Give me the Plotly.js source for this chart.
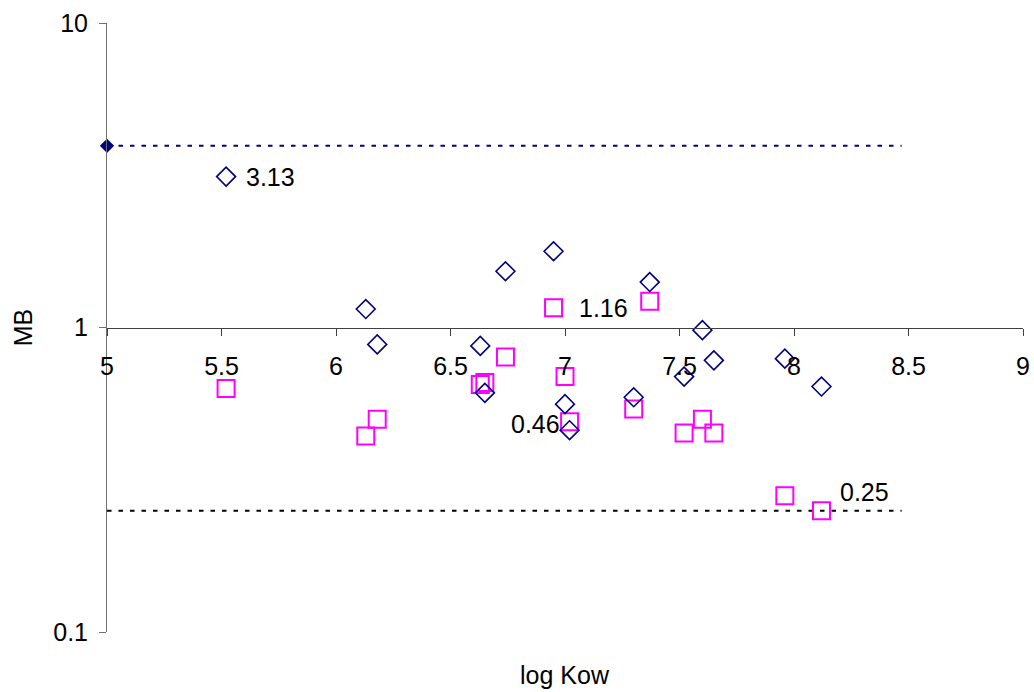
<!DOCTYPE html>
<html>
<head>
<meta charset="utf-8">
<script src="https://cdn.plot.ly/plotly-3.0.1.min.js"></script>
<style>
  html, body { margin: 0; padding: 0; background: #ffffff; }
  #chart { width: 1034px; height: 692px; }
</style>
</head>
<body>
<div id="chart"></div>
<script>
// log Kow of each compound (shared by both series)
const logKow = [5.52, 6.13, 6.18, 6.63, 6.65, 6.74, 6.95, 7.00, 7.02, 7.30, 7.37, 7.52, 7.60, 7.65, 7.96, 8.12];
// MB, first series (open navy diamonds)
const mbDiamond = [3.13, 1.15, 0.88, 0.87, 0.61, 1.53, 1.78, 0.56, 0.46, 0.59, 1.41, 0.69, 0.98, 0.78, 0.79, 0.64];
// MB, second series (open magenta squares)
const mbSquare = [0.63, 0.44, 0.50, 0.65, 0.66, 0.80, 1.16, 0.69, 0.49, 0.54, 1.22, 0.45, 0.50, 0.45, 0.28, 0.25];

// horizontal reference levels, drawn over this log Kow span
const refSpan = [5, 8.47];
const upperLevel = 3.95;
const lowerLevel = 0.25;

// x tick positions and y decade ticks
const xTicks = [5, 5.5, 6, 6.5, 7, 7.5, 8, 8.5, 9];
const yTicks = [0.1, 1, 10];
const yTickText = ['0.1', '1', '10'];

// which points carry a value label: [series, index, anchor, xshift, yshift]
const labelled = [
  ['d', 0, 'left', 18, 0],
  ['s', 6, 'left', 23, 0],
  ['d', 8, 'right', -8, 6],
  ['s', 15, 'left', 17, 19]
];

const FONT = '"Liberation Sans", Arial, sans-serif';

const traces = [
  {
    x: refSpan, y: [upperLevel, upperLevel],
    mode: 'lines', name: 'upper level',
    line: { color: '#000080', width: 2, dash: '4.5px,7px' },
    hoverinfo: 'skip', cliponaxis: false
  },
  {
    x: [refSpan[0]], y: [upperLevel],
    mode: 'markers', name: 'upper level point',
    marker: { symbol: 'diamond', size: 11, color: '#000080', line: { width: 0 } },
    cliponaxis: false
  },
  {
    x: refSpan, y: [lowerLevel, lowerLevel],
    mode: 'lines', name: 'lower level',
    line: { color: '#000000', width: 2, dash: '4.5px,7px' },
    hoverinfo: 'skip', cliponaxis: false
  },
  {
    x: logKow, y: mbSquare,
    mode: 'markers', name: 'series 2',
    marker: { symbol: 'square-open', size: 17, color: '#ff00ff', line: { width: 2, color: '#ff00ff' } },
    cliponaxis: false
  },
  {
    x: logKow, y: mbDiamond,
    mode: 'markers', name: 'series 1',
    marker: { symbol: 'diamond-open', size: 14.5, color: '#000080', line: { width: 1.6, color: '#000080' } },
    cliponaxis: false
  }
];

const annotations = labelled.map(([series, i, anchor, xs, ys]) => {
  const v = series === 'd' ? mbDiamond[i] : mbSquare[i];
  return {
    x: logKow[i], y: Math.log10(v), xref: 'x', yref: 'y',
    text: v.toFixed(2), showarrow: false,
    xanchor: anchor, yanchor: 'middle', xshift: xs, yshift: ys,
    font: { family: FONT, size: 25, color: '#000000' }
  };
});

// x-axis title sits below the plot area (the axis line itself crosses at MB = 1)
const H = 692, mt = 23, mb = 60;
annotations.push({
  x: 0.5, y: 1 - (675 - mt) / (H - mt - mb), xref: 'paper', yref: 'paper',
  text: 'log Kow', showarrow: false, xanchor: 'center', yanchor: 'middle',
  font: { family: FONT, size: 25, color: '#000000' }
});

const layout = {
  width: 1034, height: 692,
  margin: { l: 107, r: 11, t: 23, b: 60, pad: 0 },
  paper_bgcolor: '#ffffff', plot_bgcolor: '#ffffff',
  showlegend: false,
  font: { family: FONT, size: 25, color: '#000000' },
  xaxis: {
    range: [5, 9], tickvals: xTicks, ticks: 'outside', ticklen: 7, tickwidth: 1,
    tickcolor: '#404040', showline: true, linecolor: '#404040', linewidth: 1,
    showgrid: false, zeroline: false, anchor: 'free', position: 0.5,
    ticklabelstandoff: 9, tickfont: { family: FONT, size: 25, color: '#000000' }
  },
  yaxis: {
    type: 'log', range: [-1, 1], tickvals: yTicks, ticktext: yTickText,
    ticks: 'outside', ticklen: 7, tickwidth: 1, tickcolor: '#707070',
    showline: true, linecolor: '#707070', linewidth: 1,
    showgrid: false, zeroline: false, ticklabelstandoff: 6,
    tickfont: { family: FONT, size: 25, color: '#000000' },
    title: { text: 'MB', standoff: 13, font: { family: FONT, size: 25, color: '#000000' } }
  },
  annotations: annotations
};

Plotly.newPlot('chart', traces, layout, { displayModeBar: false, staticPlot: true });
</script>
</body>
</html>
